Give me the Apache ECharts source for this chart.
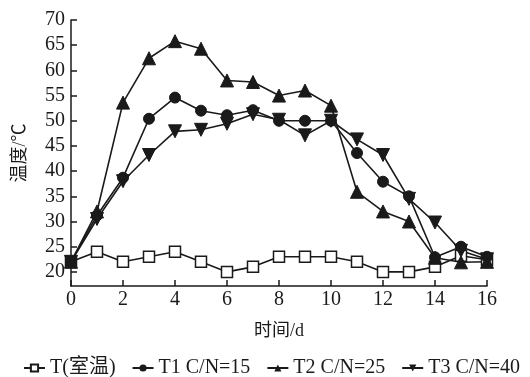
<!DOCTYPE html>
<html>
<head>
<meta charset="utf-8">
<script src="https://cdn.jsdelivr.net/npm/echarts@6/dist/echarts.min.js"></script>
<style>
  html, body { margin: 0; padding: 0; background: #fff; }
  #chart { width: 530px; height: 377px; }
</style>
</head>
<body>
<div id="chart"></div>
<script>
  // days 0..16
  const days = [0, 1, 2, 3, 4, 5, 6, 7, 8, 9, 10, 11, 12, 13, 14, 15, 16]
  const tRoom = [22, 24, 22, 23, 24, 22, 20, 21, 23, 23, 23, 22, 20, 20, 21, 23.2, 22.4]
  const t1 = [22, 31.2, 38.7, 50.4, 54.6, 52, 51.1, 52.1, 50, 50, 50, 43.6, 37.9, 35, 22.9, 25, 23]
  const t2 = [22, 32, 53.6, 62.4, 65.8, 64.3, 58, 57.7, 55, 56, 53, 35.9, 32, 30, 22.8, 21.9, 22]
  const t3 = [22, 30.5, 38, 43.2, 47.9, 48.2, 49.4, 51.3, 50.2, 47.1, 50, 46.3, 43.2, 34.5, 29.8, 24.2, 22.5]
  const yTicks = [20, 25, 30, 35, 40, 45, 50, 55, 60, 65, 70]
  const names = ['T(室温)', 'T1 C/N=15', 'T2 C/N=25', 'T3 C/N=40']

  const font = '"Liberation Serif", "Noto Sans CJK SC", serif'
  const pairs = arr => days.map((d, i) => [d, arr[i]])

  const chart = echarts.init(document.getElementById('chart'))
  const lineSeries = (name, data, symbol, size, extra) => Object.assign({
    name: name,
    type: 'line',
    data: pairs(data),
    symbol: symbol,
    symbolSize: size,
    lineStyle: { color: '#1a1a1a', width: 1.6 },
    itemStyle: { color: '#1a1a1a', borderColor: '#1a1a1a' },
    animation: false
  }, extra || {})

  chart.setOption({
    backgroundColor: '#fff',
    grid: { left: 71, right: 43, top: 20, bottom: 91 },
    legend: {
      top: 358,
      left: 23,
      width: 507,
      padding: 0,
      itemWidth: 21,
      itemHeight: 9,
      itemGap: 16,
      textStyle: { fontFamily: font, fontSize: 20, color: '#1a1a1a' },
      data: names
    },
    xAxis: {
      type: 'value',
      min: 0,
      max: 16,
      interval: 2,
      name: '时间/d',
      nameLocation: 'middle',
      nameGap: 36,
      nameTextStyle: { fontFamily: font, fontSize: 18, color: '#1a1a1a' },
      axisLine: { lineStyle: { color: '#1a1a1a', width: 1.5 } },
      axisTick: { inside: true, length: 6, lineStyle: { color: '#1a1a1a', width: 1.5 } },
      axisLabel: { fontFamily: font, fontSize: 20, color: '#1a1a1a', margin: 4 },
      splitLine: { show: false }
    },
    yAxis: {
      type: 'value',
      min: 17.2,
      max: 70,
      name: '温度/℃',
      nameLocation: 'middle',
      nameGap: 42,
      nameTextStyle: { fontFamily: font, fontSize: 18, color: '#1a1a1a' },
      axisLine: { show: true, lineStyle: { color: '#1a1a1a', width: 1.5 } },
      axisTick: { show: true, inside: true, length: 6, customValues: yTicks, lineStyle: { color: '#1a1a1a', width: 1.5 } },
      axisLabel: { fontFamily: font, fontSize: 20, color: '#1a1a1a', margin: 6, customValues: yTicks },
      splitLine: { show: false }
    },
    series: [
      lineSeries(names[0], tRoom, 'rect', 11, { itemStyle: { color: '#fff', borderColor: '#1a1a1a', borderWidth: 1.5 } }),
      lineSeries(names[1], t1, 'circle', 11),
      lineSeries(names[2], t2, 'triangle', 13),
      lineSeries(names[3], t3, 'triangle', 13, { symbolRotate: 180 })
    ]
  })
</script>
</body>
</html>
